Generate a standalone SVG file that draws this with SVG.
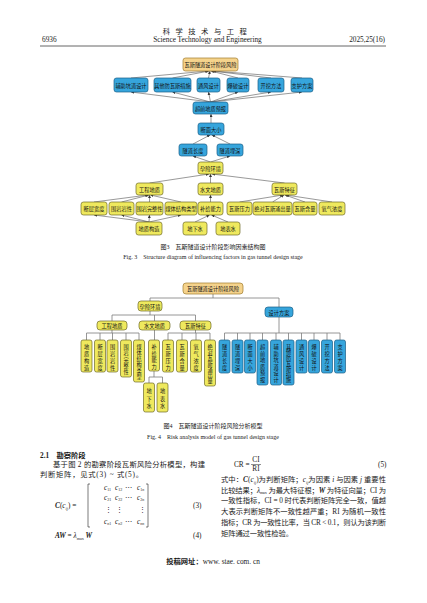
<svg xmlns="http://www.w3.org/2000/svg" width="427" height="603" viewBox="0 0 427 603">
<defs>
<marker id="ah" viewBox="0 0 6 6" refX="6" refY="3" markerWidth="3" markerHeight="3" markerUnits="userSpaceOnUse" orient="auto"><path d="M0,0 L6,3 L0,6 z" fill="#333"/></marker>
<style>
.y{fill:#efe95e;stroke:#6f6a28;stroke-width:0.7}
.b{fill:#36a5dc;stroke:#1b5f87;stroke-width:0.7}
.o{fill:#f5d38c;stroke:#a07b2c;stroke-width:0.7}
.t{font-family:"Noto Sans CJK SC",sans-serif;font-size:5.2px;fill:#111;text-anchor:middle;dominant-baseline:central}
.e3 line{stroke:#444;stroke-width:0.55;marker-end:url(#ah)}
.e4 path{stroke:#7c7c7c;stroke-width:0.8;fill:none}
.body{font-family:"Liberation Serif","Noto Sans CJK SC",serif;font-size:7.3px;fill:#1a1a1a}
.cap{font-family:"Liberation Serif","Noto Sans CJK SC",serif;font-size:6px;fill:#1a1a1a;text-anchor:middle}
.it{font-style:italic}
.bi{font-style:italic;font-weight:bold}
</style>
</defs>
<rect width="427" height="603" fill="#fff"/>

<!-- header -->
<g id="header">
<text class="body" x="207.5" y="34" text-anchor="middle" font-size="7.3" letter-spacing="5.5">科学技术与工程</text>
<text class="body" x="207.5" y="42" text-anchor="middle" font-size="6">Science Technology and Engineering</text>
<text class="body" x="42" y="42" font-size="6">6936</text>
<text class="body" x="385" y="42" font-size="6" text-anchor="end">2025,25(16)</text>
<line x1="40" y1="46" x2="386" y2="46" stroke="#555" stroke-width="0.9"/>
</g>

<!-- Figure 3 connectors -->
<g id="fig3-connectors" class="e3">
<line x1="131" y1="78" x2="208" y2="71"/>
<line x1="172.5" y1="78" x2="209" y2="71"/>
<line x1="208.5" y1="78" x2="210" y2="71"/>
<line x1="238" y1="78" x2="211" y2="71"/>
<line x1="271" y1="78" x2="212" y2="71"/>
<line x1="302" y1="78" x2="213" y2="71"/>
<line x1="210.5" y1="102" x2="131" y2="92"/>
<line x1="210.5" y1="102" x2="172.5" y2="92"/>
<line x1="210.5" y1="102" x2="208.5" y2="92"/>
<line x1="210.5" y1="102" x2="238" y2="92"/>
<line x1="210.5" y1="102" x2="271" y2="92"/>
<line x1="210.5" y1="102" x2="302" y2="92"/>
<line x1="211" y1="123" x2="211" y2="114"/>
<line x1="193" y1="144" x2="210" y2="135"/>
<line x1="230" y1="144" x2="212" y2="135"/>
<line x1="210.5" y1="162" x2="193" y2="156"/>
<line x1="210.5" y1="162" x2="230" y2="156"/>
<line x1="149.5" y1="183" x2="209" y2="174"/>
<line x1="210.5" y1="183" x2="210.5" y2="174"/>
<line x1="284.5" y1="183" x2="212" y2="174"/>
<line x1="94" y1="202" x2="148" y2="195"/>
<line x1="121.5" y1="202" x2="149" y2="195"/>
<line x1="149.5" y1="202" x2="149.5" y2="195"/>
<line x1="181" y1="202" x2="150.5" y2="195"/>
<line x1="210.5" y1="202" x2="210.5" y2="195"/>
<line x1="239.5" y1="202" x2="283" y2="195"/>
<line x1="272.5" y1="202" x2="284" y2="195"/>
<line x1="305" y1="202" x2="285" y2="195"/>
<line x1="332" y1="202" x2="286" y2="195"/>
<line x1="149" y1="222" x2="94" y2="215"/>
<line x1="149" y1="222" x2="121.5" y2="215"/>
<line x1="149" y1="222" x2="149.5" y2="215"/>
<line x1="149" y1="222" x2="181" y2="215"/>
<line x1="195" y1="222" x2="209.5" y2="215"/>
<line x1="228" y1="222" x2="211.5" y2="215"/>
</g>

<!-- Figure 3 nodes -->
<g id="f3-top"><rect class="o" x="183" y="58" width="55" height="13" rx="2.5"/><text class="t" x="210.5" y="64.5">瓦斯隧道设计阶段风险</text></g>
<g id="f3-fzkd"><rect class="b" x="114" y="78" width="34" height="14" rx="2.5"/><text class="t" x="131" y="85">辅助坑道设计</text></g>
<g id="f3-qtfws"><rect class="b" x="154" y="78" width="37" height="14" rx="2.5"/><text class="t" x="172.5" y="85">其他防瓦斯措施</text></g>
<g id="f3-tfsj"><rect class="b" x="197" y="78" width="23" height="14" rx="2.5"/><text class="t" x="208.5" y="85">通风设计</text></g>
<g id="f3-bpsj"><rect class="b" x="227" y="78" width="22" height="14" rx="2.5"/><text class="t" x="238" y="85">爆破设计</text></g>
<g id="f3-kwff"><rect class="b" x="258" y="78" width="26" height="14" rx="2.5"/><text class="t" x="271" y="85">开挖方法</text></g>
<g id="f3-zhfa"><rect class="b" x="291" y="78" width="22" height="14" rx="2.5"/><text class="t" x="302" y="85">支护方案</text></g>
<g id="f3-cqdz"><rect class="b" x="193" y="102" width="35" height="12" rx="2.5"/><text class="t" x="210.5" y="108">超前地质预报</text></g>
<g id="f3-dmdx"><rect class="b" x="198" y="123" width="26" height="12" rx="2.5"/><text class="t" x="211" y="129">断面大小</text></g>
<g id="f3-sdcd"><rect class="b" x="179" y="144" width="28" height="12" rx="2.5"/><text class="t" x="193" y="150">隧道长度</text></g>
<g id="f3-sdms"><rect class="b" x="217" y="144" width="26" height="12" rx="2.5"/><text class="t" x="230" y="150">隧道埋深</text></g>
<g id="f3-yxhj"><rect class="y" x="198" y="162" width="25" height="12" rx="2.5"/><text class="t" x="210.5" y="168">孕险环境</text></g>
<g id="f3-gcdz"><rect class="y" x="136" y="183" width="27" height="12" rx="2.5"/><text class="t" x="149.5" y="189">工程地质</text></g>
<g id="f3-swdz"><rect class="y" x="198" y="183" width="25" height="12" rx="2.5"/><text class="t" x="210.5" y="189">水文地质</text></g>
<g id="f3-wstz"><rect class="y" x="272" y="183" width="25" height="12" rx="2.5"/><text class="t" x="284.5" y="189">瓦斯特征</text></g>
<g id="f3-dckd"><rect class="y" x="81" y="202" width="26" height="13" rx="2.5"/><text class="t" x="94" y="208.5">断层宽度</text></g>
<g id="f3-wyyx"><rect class="y" x="109" y="202" width="25" height="13" rx="2.5"/><text class="t" x="121.5" y="208.5">围岩岩性</text></g>
<g id="f3-wywz"><rect class="y" x="136" y="202" width="27" height="13" rx="2.5"/><text class="t" x="149.5" y="208.5">围岩完整性</text></g>
<g id="f3-mtjg"><rect class="y" x="165" y="202" width="32" height="13" rx="2.5"/><text class="t" x="181" y="208.5">煤体结构类型</text></g>
<g id="f3-bjnl"><rect class="y" x="198" y="202" width="25" height="13" rx="2.5"/><text class="t" x="210.5" y="208.5">补给能力</text></g>
<g id="f3-wsyl"><rect class="y" x="227" y="202" width="25" height="13" rx="2.5"/><text class="t" x="239.5" y="208.5">瓦斯压力</text></g>
<g id="f3-jdws"><rect class="y" x="253" y="202" width="39" height="13" rx="2.5"/><text class="t" x="272.5" y="208.5">绝对瓦斯涌出量</text></g>
<g id="f3-wshl"><rect class="y" x="293" y="202" width="24" height="13" rx="2.5"/><text class="t" x="305" y="208.5">瓦斯含量</text></g>
<g id="f3-yqnd"><rect class="y" x="319" y="202" width="26" height="13" rx="2.5"/><text class="t" x="332" y="208.5">氧气浓度</text></g>
<g id="f3-dzgz"><rect class="y" x="136" y="222" width="26" height="13" rx="2.5"/><text class="t" x="149" y="228.5">地质构造</text></g>
<g id="f3-dxs"><rect class="y" x="183" y="222" width="24" height="13" rx="2.5"/><text class="t" x="195" y="228.5">地下水</text></g>
<g id="f3-dbs"><rect class="y" x="216" y="222" width="24" height="13" rx="2.5"/><text class="t" x="228" y="228.5">地表水</text></g>

<text class="cap" x="213" y="249">图3　瓦斯隧道设计阶段影响因素结构图</text>
<text class="cap" x="213" y="259" font-size="5.6">Fig. 3　Structure diagram of influencing factors in gas tunnel design stage</text>

<!-- Figure 4 connectors -->
<g id="fig4-connectors" class="e4">
<path d="M213,294 V298 M150,298 H279 M150,298 V301 M279,298 V307"/>
<path d="M150,311 V315 M112,315 H195.5 M112,315 V321 M154.5,315 V321 M195.5,315 V321"/>
<path d="M112,330 V333 M86.5,333 H139 M86.5,333 V340 M100,333 V340 M112.5,333 V340 M126,333 V340 M139,333 V340"/>
<path d="M154.5,330 V340"/>
<path d="M195.5,330 V333 M168,333 H210 M168,333 V340 M182,333 V340 M196,333 V340 M210,333 V340"/>
<path d="M154,371 V377 M149,377 H162.5 M149,377 V383 M162.5,377 V383"/>
<path d="M279,317 V333 M224.5,333 H340 M224.5,333 V340 M237.5,333 V340 M250,333 V340 M262.5,333 V340 M276,333 V340 M288.5,333 V340 M301.5,333 V340 M314,333 V340 M327,333 V340 M340,333 V340"/>
</g>

<!-- Figure 4 nodes -->
<g id="f4-top"><rect class="o" x="183" y="283" width="60" height="11" rx="3"/><text class="t" x="213" y="288.5">瓦斯隧道设计阶段风险</text></g>
<g id="f4-yxhj"><rect class="y" x="138" y="301" width="24" height="10" rx="3"/><text class="t" x="150" y="306">孕险环境</text></g>
<g id="f4-sjfa"><rect class="b" x="265" y="307" width="28" height="10" rx="3"/><text class="t" x="279" y="312">设计方案</text></g>
<g id="f4-gcdz"><rect class="y" x="97" y="321" width="30" height="9" rx="3"/><text class="t" x="112" y="325.5">工程地质</text></g>
<g id="f4-swdz"><rect class="y" x="139" y="321" width="31" height="9" rx="3"/><text class="t" x="154.5" y="325.5">水文地质</text></g>
<g id="f4-wstz"><rect class="y" x="180" y="321" width="31" height="9" rx="3"/><text class="t" x="195.5" y="325.5">瓦斯特征</text></g>

<g id="f4-dzgz"><rect class="y" x="81" y="340" width="11" height="32" rx="2"/><text class="t"><tspan x="86.5" y="346.4">地</tspan><tspan x="86.5" y="353.1">质</tspan><tspan x="86.5" y="359.9">构</tspan><tspan x="86.5" y="366.6">造</tspan></text></g>
<g id="f4-dckd"><rect class="y" x="94.5" y="340" width="11" height="32" rx="2"/><text class="t"><tspan x="100" y="346.4">断</tspan><tspan x="100" y="353.1">层</tspan><tspan x="100" y="359.9">宽</tspan><tspan x="100" y="366.6">度</tspan></text></g>
<g id="f4-wyyx"><rect class="y" x="107" y="340" width="11" height="32" rx="2"/><text class="t"><tspan x="112.5" y="346.4">围</tspan><tspan x="112.5" y="353.1">岩</tspan><tspan x="112.5" y="359.9">岩</tspan><tspan x="112.5" y="366.6">性</tspan></text></g>
<g id="f4-wywz"><rect class="y" x="120.5" y="340" width="11" height="37" rx="2"/><text class="t"><tspan x="126" y="346.1">围</tspan><tspan x="126" y="352.3">岩</tspan><tspan x="126" y="358.5">完</tspan><tspan x="126" y="364.7">整</tspan><tspan x="126" y="370.9">性</tspan></text></g>
<g id="f4-mtjg"><rect class="y" x="133.5" y="340" width="11" height="42" rx="2"/><text class="t"><tspan x="139" y="346">煤</tspan><tspan x="139" y="352">体</tspan><tspan x="139" y="358">结</tspan><tspan x="139" y="364">构</tspan><tspan x="139" y="370">类</tspan><tspan x="139" y="376">型</tspan></text></g>
<g id="f4-bjnl"><rect class="y" x="148.5" y="340" width="11" height="31" rx="2"/><text class="t"><tspan x="154" y="346.2">补</tspan><tspan x="154" y="352.7">给</tspan><tspan x="154" y="359.2">能</tspan><tspan x="154" y="365.7">力</tspan></text></g>
<g id="f4-wsyl"><rect class="y" x="162.5" y="340" width="11" height="32" rx="2"/><text class="t"><tspan x="168" y="346.4">瓦</tspan><tspan x="168" y="353.1">斯</tspan><tspan x="168" y="359.9">压</tspan><tspan x="168" y="366.6">力</tspan></text></g>
<g id="f4-wshl"><rect class="y" x="176.5" y="340" width="11" height="32" rx="2"/><text class="t"><tspan x="182" y="346.4">瓦</tspan><tspan x="182" y="353.1">斯</tspan><tspan x="182" y="359.9">含</tspan><tspan x="182" y="366.6">量</tspan></text></g>
<g id="f4-yqnd"><rect class="y" x="190.5" y="340" width="11" height="32" rx="2"/><text class="t"><tspan x="196" y="346.4">氧</tspan><tspan x="196" y="353.1">气</tspan><tspan x="196" y="359.9">浓</tspan><tspan x="196" y="366.6">度</tspan></text></g>
<g id="f4-jdws"><rect class="y" x="204.5" y="340" width="11" height="46" rx="2"/><text class="t"><tspan x="210" y="345.9">绝</tspan><tspan x="210" y="351.6">对</tspan><tspan x="210" y="357.3">瓦</tspan><tspan x="210" y="363">斯</tspan><tspan x="210" y="368.7">涌</tspan><tspan x="210" y="374.4">出</tspan><tspan x="210" y="380.1">量</tspan></text></g>
<g id="f4-dxs"><rect class="y" x="143.5" y="383" width="11" height="29" rx="2"/><text class="t"><tspan x="149" y="389.8">地</tspan><tspan x="149" y="397.5">下</tspan><tspan x="149" y="405.2">水</tspan></text></g>
<g id="f4-dbs"><rect class="y" x="157" y="383" width="11" height="29" rx="2"/><text class="t"><tspan x="162.5" y="389.8">地</tspan><tspan x="162.5" y="397.5">表</tspan><tspan x="162.5" y="405.2">水</tspan></text></g>

<g id="f4-sdcd"><rect class="b" x="219" y="340" width="11" height="33" rx="2"/><text class="t"><tspan x="224.5" y="346.4">隧</tspan><tspan x="224.5" y="353.1">道</tspan><tspan x="224.5" y="359.9">长</tspan><tspan x="224.5" y="366.6">度</tspan></text></g>
<g id="f4-sdms"><rect class="b" x="232" y="340" width="11" height="33" rx="2"/><text class="t"><tspan x="237.5" y="346.4">隧</tspan><tspan x="237.5" y="353.1">道</tspan><tspan x="237.5" y="359.9">埋</tspan><tspan x="237.5" y="366.6">深</tspan></text></g>
<g id="f4-dmdx"><rect class="b" x="244.5" y="340" width="11" height="33" rx="2"/><text class="t"><tspan x="250" y="346.4">断</tspan><tspan x="250" y="353.1">面</tspan><tspan x="250" y="359.9">大</tspan><tspan x="250" y="366.6">小</tspan></text></g>
<g id="f4-cqdz"><rect class="b" x="257" y="340" width="11" height="45" rx="2"/><text class="t"><tspan x="262.5" y="346.2">超</tspan><tspan x="262.5" y="352.7">前</tspan><tspan x="262.5" y="359.2">地</tspan><tspan x="262.5" y="365.7">质</tspan><tspan x="262.5" y="372.2">预</tspan><tspan x="262.5" y="378.7">报</tspan></text></g>
<g id="f4-fzkd"><rect class="b" x="270.5" y="340" width="11" height="45" rx="2"/><text class="t"><tspan x="276" y="346.2">辅</tspan><tspan x="276" y="352.7">助</tspan><tspan x="276" y="359.2">坑</tspan><tspan x="276" y="365.7">道</tspan><tspan x="276" y="372.2">设</tspan><tspan x="276" y="378.7">计</tspan></text></g>
<g id="f4-qtfws"><rect class="b" x="283" y="340" width="11" height="45" rx="2"/><text class="t"><tspan x="288.5" y="345.8">其</tspan><tspan x="288.5" y="351.4">他</tspan><tspan x="288.5" y="356.9">防</tspan><tspan x="288.5" y="362.5">瓦</tspan><tspan x="288.5" y="368.1">斯</tspan><tspan x="288.5" y="373.6">措</tspan><tspan x="288.5" y="379.2">施</tspan></text></g>
<g id="f4-tfsj"><rect class="b" x="296" y="340" width="11" height="33" rx="2"/><text class="t"><tspan x="301.5" y="346.4">通</tspan><tspan x="301.5" y="353.1">风</tspan><tspan x="301.5" y="359.9">设</tspan><tspan x="301.5" y="366.6">计</tspan></text></g>
<g id="f4-bpsj"><rect class="b" x="308.5" y="340" width="11" height="33" rx="2"/><text class="t"><tspan x="314" y="346.4">爆</tspan><tspan x="314" y="353.1">破</tspan><tspan x="314" y="359.9">设</tspan><tspan x="314" y="366.6">计</tspan></text></g>
<g id="f4-kwff"><rect class="b" x="321.5" y="340" width="11" height="33" rx="2"/><text class="t"><tspan x="327" y="346.4">开</tspan><tspan x="327" y="353.1">挖</tspan><tspan x="327" y="359.9">方</tspan><tspan x="327" y="366.6">法</tspan></text></g>
<g id="f4-zhfa"><rect class="b" x="334.5" y="340" width="11" height="33" rx="2"/><text class="t"><tspan x="340" y="346.4">支</tspan><tspan x="340" y="353.1">护</tspan><tspan x="340" y="359.9">方</tspan><tspan x="340" y="366.6">案</tspan></text></g>

<text class="cap" x="213" y="428">图4　瓦斯隧道设计阶段风险分析模型</text>
<text class="cap" x="213" y="439" font-size="5.6">Fig. 4　Risk analysis model of gas tunnel design stage</text>

<!-- body text left -->
<text class="body" x="40" y="458" font-weight="bold" font-size="7.5">2.1　勘察阶段</text>
<text class="body" x="53" y="467" textLength="152" lengthAdjust="spacing">基于图 2 的勘察阶段瓦斯风险分析模型，构建</text>
<text class="body" x="40" y="477" textLength="103" lengthAdjust="spacing">判断矩阵，见式(3) ~ 式(5)。</text>

<g id="matrix" class="body" font-size="6.3">
<text x="55" y="508"><tspan class="bi" font-size="7.3">C</tspan>(<tspan class="it">c</tspan><tspan class="it" font-size="4.2" dy="1.5">ij</tspan><tspan dy="-1.5">)  =</tspan></text>
<path d="M90,484 H88 V527 H90 M146,484 H148 V527 H146" fill="none" stroke="#222" stroke-width="0.6"/>
<text x="104" y="490"><tspan class="it">c</tspan><tspan font-size="4" dy="1.2">11</tspan></text>
<text x="115" y="490"><tspan class="it">c</tspan><tspan font-size="4" dy="1.2">12</tspan></text>
<text x="125" y="490">⋯</text>
<text x="137" y="490"><tspan class="it">c</tspan><tspan font-size="4" dy="1.2">1<tspan class="it">n</tspan></tspan></text>
<text x="104" y="500"><tspan class="it">c</tspan><tspan font-size="4" dy="1.2">21</tspan></text>
<text x="115" y="500"><tspan class="it">c</tspan><tspan font-size="4" dy="1.2">22</tspan></text>
<text x="125" y="500">⋯</text>
<text x="137" y="500"><tspan class="it">c</tspan><tspan font-size="4" dy="1.2">2<tspan class="it">n</tspan></tspan></text>
<text x="105" y="512">⋮</text>
<text x="116" y="512">⋮</text>
<text x="139" y="512">⋮</text>
<text x="104" y="524"><tspan class="it">c</tspan><tspan font-size="4" dy="1.2"><tspan class="it">n</tspan>1</tspan></text>
<text x="115" y="524"><tspan class="it">c</tspan><tspan font-size="4" dy="1.2"><tspan class="it">n</tspan>2</tspan></text>
<text x="125" y="524">⋯</text>
<text x="137" y="524"><tspan class="it">c</tspan><tspan font-size="4" dy="1.2" class="it">nn</tspan></text>
</g>
<text class="body" x="193" y="508" font-size="6.8">(3)</text>
<text class="body" x="55" y="538" font-size="7.3"><tspan class="bi">AW</tspan>  =  <tspan class="it">λ</tspan><tspan font-size="4.2" dy="1.5">max</tspan><tspan dy="-1.5" class="bi"> W</tspan></text>
<text class="body" x="193" y="538" font-size="6.8">(4)</text>

<!-- body text right -->
<text class="body" x="234" y="467">CR =</text>
<text class="body" x="256" y="462" text-anchor="middle" font-size="6.5">CI</text>
<line x1="251" y1="464.5" x2="261" y2="464.5" stroke="#222" stroke-width="0.5"/>
<text class="body" x="256" y="471" text-anchor="middle" font-size="6.5">RI</text>
<text class="body" x="378" y="467" font-size="6.8">(5)</text>

<text class="body" x="221" y="482" textLength="165" lengthAdjust="spacing">式中：<tspan class="bi">C</tspan>(<tspan class="it">c</tspan><tspan class="it" font-size="4.2" dy="1.5">ij</tspan><tspan dy="-1.5">)为判断矩阵；</tspan><tspan class="it">c</tspan><tspan class="it" font-size="4.2" dy="1.5">ij</tspan><tspan dy="-1.5">为因素 </tspan><tspan class="it">i</tspan> 与因素 <tspan class="it">j</tspan> 重要性</text>
<text class="body" x="221" y="492.7" textLength="165" lengthAdjust="spacing">比较结果；<tspan class="it">λ</tspan><tspan font-size="4.2" dy="1.5">max</tspan><tspan dy="-1.5"> 为最大特征根；</tspan><tspan class="bi">W</tspan> 为特征向量；CI 为</text>
<text class="body" x="221" y="503.4" textLength="165" lengthAdjust="spacing">一致性指标，CI = 0 时代表判断矩阵完全一致，值越</text>
<text class="body" x="221" y="514.1" textLength="165" lengthAdjust="spacing">大表示判断矩阵不一致性越严重；RI 为随机一致性</text>
<text class="body" x="221" y="524.8" textLength="165" lengthAdjust="spacing">指标；CR 为一致性比率，当 CR &lt; 0.1，则认为该判断</text>
<text class="body" x="221" y="535.5" textLength="72" lengthAdjust="spacing">矩阵通过一致性检验。</text>

<text class="body" x="213" y="564" text-anchor="middle" font-size="6.5"><tspan font-weight="bold">投稿网址：</tspan>www. stae. com. cn</text>
</svg>
